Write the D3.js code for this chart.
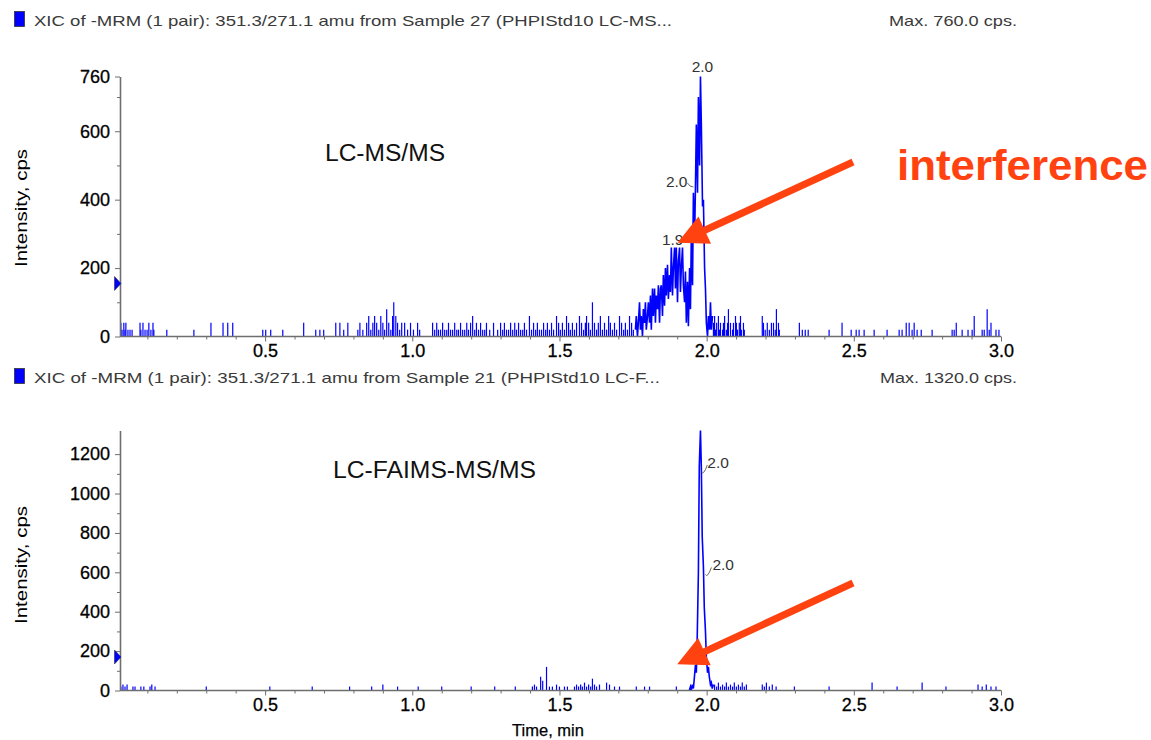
<!DOCTYPE html>
<html>
<head>
<meta charset="utf-8">
<script src="https://cdn.jsdelivr.net/npm/d3@7"></script>
<style>
body { margin: 0; background: #fff; }
svg { display: block; font-family: 'Liberation Sans', Arial, sans-serif; }
</style>
</head>
<body>
<script>
// ---- data (time in min, intensity in cps) ----
let xTicks = [0.5, 1.0, 1.5, 2.0, 2.5, 3.0];
let xMinor = [0.1, 0.2, 0.3, 0.4, 0.6, 0.7, 0.8, 0.9, 1.1, 1.2, 1.3, 1.4, 1.6, 1.7, 1.8, 1.9, 2.1, 2.2, 2.3, 2.4, 2.6, 2.7, 2.8, 2.9];

let topTicks = [0, 200, 400, 600, 760];
let topMinor = [100, 300, 500, 700];
let bottomTicks = [0, 200, 400, 600, 800, 1000, 1200];
let bottomMinor = [100, 300, 500, 700, 900, 1100];

// baseline noise, LC-MS/MS
let topNoise = [
  [0.010,40],[0.014,20],[0.020,40],[0.024,20],[0.027,40],[0.034,20],[0.041,20],[0.048,20],
  [0.075,40],[0.078,20],[0.085,40],[0.092,20],[0.099,20],[0.105,40],[0.112,20],[0.119,40],[0.122,20],
  [0.166,20],[0.258,20],[0.316,40],[0.357,40],[0.373,40],[0.390,40],
  [0.492,20],[0.502,20],[0.519,20],[0.560,20],[0.631,40],[0.672,20],[0.686,20],[0.699,20],
  [0.740,40],[0.754,40],[0.767,20],[0.781,40],[0.815,20],[0.822,40],[0.832,20],[0.845,40],[0.852,60],
  [0.859,20],[0.866,40],[0.872,60],[0.879,40],[0.886,20],[0.893,60],[0.900,40],[0.906,20],[0.913,80],
  [0.920,40],[0.927,20],[0.933,60],[0.937,100],[0.944,60],[0.950,40],[0.957,20],[0.964,40],[0.974,40],
  [0.984,20],[0.994,40],[1.004,20],[1.018,40],[1.025,20],
  [1.069,40],[1.076,20],[1.083,40],[1.089,20],[1.096,20],[1.103,40],[1.110,20],[1.117,20],[1.123,40],
  [1.130,20],[1.137,20],[1.144,40],[1.151,20],[1.157,20],[1.164,40],[1.171,20],[1.178,20],[1.185,40],
  [1.191,20],[1.198,40],[1.205,60],[1.212,20],[1.218,40],[1.225,20],[1.232,40],[1.239,20],[1.246,20],
  [1.252,40],[1.263,20],[1.276,40],[1.290,20],[1.300,40],[1.307,20],[1.313,40],[1.320,20],[1.327,20],
  [1.334,40],[1.341,20],[1.348,40],[1.354,20],[1.361,40],[1.368,20],[1.375,20],[1.381,40],[1.388,20],
  [1.398,60],[1.405,20],[1.412,40],[1.419,20],[1.425,40],[1.432,20],[1.439,20],[1.446,40],[1.453,20],
  [1.459,40],[1.466,20],[1.473,40],[1.480,20],[1.490,60],[1.497,40],[1.503,20],[1.510,40],[1.517,20],
  [1.524,60],[1.531,40],[1.537,20],[1.544,40],[1.551,20],[1.558,40],[1.568,60],[1.575,40],[1.582,20],
  [1.588,40],[1.592,60],[1.599,40],[1.605,20],[1.612,100],[1.619,40],[1.626,20],[1.632,40],[1.639,60],
  [1.646,20],[1.653,40],[1.660,20],[1.667,60],[1.673,40],[1.680,20],[1.687,40],[1.694,20],[1.704,60],
  [1.711,40],[1.718,20],[1.724,40],[1.731,20],[1.738,60],[1.745,40],[1.751,20],
  [2.023,40],[2.027,60],[2.030,20],[2.034,40],[2.040,60],[2.044,20],[2.047,40],[2.054,20],[2.057,40],
  [2.061,60],[2.067,20],[2.071,40],[2.074,80],[2.081,40],[2.088,20],[2.091,40],[2.098,60],[2.101,40],
  [2.105,20],[2.111,40],[2.115,60],[2.118,20],[2.125,40],[2.128,20],
  [2.189,60],[2.193,40],[2.199,20],[2.206,40],[2.213,20],[2.220,40],[2.227,40],[2.233,20],[2.237,80],
  [2.244,40],[2.247,20],[2.315,40],[2.325,20],[2.335,20],[2.345,20],[2.416,20],[2.460,40],[2.491,20],
  [2.508,20],[2.518,20],[2.535,20],[2.569,20],[2.613,20],[2.654,20],[2.664,20],[2.678,40],[2.688,40],
  [2.698,20],[2.705,40],[2.715,20],[2.729,20],[2.766,20],[2.834,20],[2.841,20],[2.848,40],[2.868,20],
  [2.888,20],[2.902,20],[2.909,60],[2.936,20],[2.943,20],[2.953,80],[2.960,20],[2.966,40],[2.983,20],[2.993,20]
];

// interference hump + analyte peak, LC-MS/MS
let topPeakTime = [
  1.758,1.761,1.765,1.768,1.772,1.775,1.778,1.782,1.785,1.789,1.792,1.795,1.799,1.802,1.806,1.809,
  1.812,1.816,1.819,1.823,1.826,1.829,1.833,1.836,1.840,1.843,1.846,1.850,1.853,1.857,1.860,1.863,
  1.867,1.870,1.874,1.877,1.880,1.884,1.887,1.891,1.894,1.897,1.901,1.904,1.908,1.911,1.914,1.918,
  1.921,1.925,1.928,1.931,1.935,1.938,1.942,1.945,1.948,1.952,1.955,1.959,1.962,1.965,1.969,1.972,
  1.976,1.979,1.982,1.986,1.989,1.993,1.996,1.999,2.003,2.006,2.010,2.013,2.016,2.020
];
let topPeakCps = [
  20,60,0,40,100,20,60,0,80,40,100,20,60,100,40,120,
  20,140,60,140,40,120,80,150,40,140,150,60,180,90,200,120,
  210,110,180,130,260,120,200,260,140,260,100,220,260,130,200,260,
  150,100,190,40,160,30,200,80,300,150,420,280,440,620,420,700,
  500,760,620,380,400,200,140,40,0,60,20,100,20,60
];

// baseline noise, LC-FAIMS-MS/MS
let bottomNoise = [
  [0.010,20],[0.017,30],[0.024,20],[0.031,30],[0.051,20],[0.058,20],[0.078,20],[0.088,20],[0.109,20],
  [0.115,30],[0.126,20],[0.300,20],[0.516,20],[0.660,20],[0.787,20],[0.862,20],[0.900,30],[0.950,20],
  [1.020,20],[1.100,20],[1.200,20],[1.280,20],[1.350,20],
  [1.408,20],[1.415,30],[1.422,20],[1.436,70],[1.443,50],[1.456,120],[1.466,20],[1.476,20],[1.490,30],
  [1.500,20],[1.517,20],[1.527,20],[1.551,20],[1.558,30],[1.565,20],[1.572,30],[1.578,20],[1.585,40],
  [1.592,20],[1.599,30],[1.606,20],[1.612,60],[1.619,30],[1.626,20],[1.636,30],[1.660,40],[1.670,30],
  [1.687,20],[1.704,20],[1.761,20],[1.789,20],[1.806,20],[1.897,20],
  [2.027,30],[2.034,20],[2.040,40],[2.047,20],[2.054,30],[2.061,20],[2.067,40],[2.074,20],[2.081,30],
  [2.088,20],[2.094,40],[2.101,20],[2.108,30],[2.115,20],[2.121,40],[2.128,20],[2.135,30],
  [2.189,30],[2.196,20],[2.203,40],[2.213,20],[2.223,30],[2.236,20],[2.298,20],[2.416,20],[2.562,40],
  [2.647,20],[2.732,40],[2.813,20],[2.922,30],[2.936,20],[2.950,30],[2.966,20],[2.983,20]
];

// analyte peak, LC-FAIMS-MS/MS
let bottomPeakTime = [
  1.941,1.945,1.948,1.951,1.955,1.958,1.962,1.965,1.968,1.972,1.975,1.979,1.982,
  1.985,1.989,1.992,1.996,1.999,2.003,2.006,2.009,2.013,2.016,2.019,2.023
];
let bottomPeakCps = [
  0,20,0,30,10,60,130,90,270,600,1140,1320,1130,
  780,630,420,300,170,90,120,70,30,40,10,30
];

let width = 1151;
let height = 740;
let blue = '#0000ff';
let red = '#ff4210';
let axisGrey = '#6e6e6e';

let svg = d3.select('body')
    .append('svg')
        .attr('width', width)
        .attr('height', height);

let x = d3.scaleLinear().domain([0.007, 3.0]).range([120, 1001]);

function drawArrow(x0, y0, x1, y1) {
    let dx = x1 - x0, dy = y1 - y0;
    let len = Math.hypot(dx, dy);
    let ux = dx / len, uy = dy / len;
    let nx = -uy, ny = ux;
    let headLen = 30, headW = 15, shaftW = 3.6;
    let bx = x1 - ux * headLen, by = y1 - uy * headLen;
    let pts = [
        [x0 + nx * shaftW, y0 + ny * shaftW],
        [bx + nx * shaftW, by + ny * shaftW],
        [bx + nx * headW, by + ny * headW],
        [x1, y1],
        [bx - nx * headW, by - ny * headW],
        [bx - nx * shaftW, by - ny * shaftW],
        [x0 - nx * shaftW, y0 - ny * shaftW]
    ];
    svg.append('polygon')
        .attr('points', pts.map(p => p.join(',')).join(' '))
        .attr('fill', red);
}

function drawPanel(cfg) {
    let y = d3.scaleLinear().domain([0, cfg.yMax]).range(cfg.yRange);
    let g = svg.append('g');

    // header line
    g.append('rect')
        .attr('x', 14.5).attr('y', cfg.headY - 14.5)
        .attr('width', 10).attr('height', 15)
        .attr('fill', blue).attr('stroke', '#333').attr('stroke-width', 0.8);
    g.append('text')
        .attr('x', 34).attr('y', cfg.headY)
        .attr('font-size', 15).attr('fill', '#3a3a3a')
        .attr('textLength', cfg.titleLen).attr('lengthAdjust', 'spacingAndGlyphs')
        .text(cfg.title);
    g.append('text')
        .attr('x', cfg.maxX).attr('y', cfg.headY)
        .attr('font-size', 15).attr('fill', '#3a3a3a')
        .attr('textLength', 1017 - cfg.maxX).attr('lengthAdjust', 'spacingAndGlyphs')
        .text(cfg.maxText);

    // noise spikes
    g.selectAll('.spike')
        .data(cfg.noise)
        .enter().append('line')
            .attr('class', 'spike')
            .attr('x1', d => x(d[0])).attr('x2', d => x(d[0]))
            .attr('y1', y(0)).attr('y2', d => y(d[1]))
            .attr('stroke', blue).attr('stroke-width', 1.2);

    // peak trace
    let pts = cfg.peakTime.map((t, i) => [t, cfg.peakCps[i]]);
    g.append('path')
        .datum(pts)
        .attr('d', d3.line().x(d => x(d[0])).y(d => y(d[1])))
        .attr('fill', 'none').attr('stroke', blue).attr('stroke-width', 1.6);

    // axes
    let xa = g.append('g')
        .attr('transform', 'translate(0,' + y(0) + ')')
        .call(d3.axisBottom(x).tickValues(xTicks).tickFormat(d3.format('.1f')).tickSize(5).tickSizeOuter(0).tickPadding(3));
    g.append('g')
        .attr('transform', 'translate(0,' + y(0) + ')')
        .call(d3.axisBottom(x).tickValues(xMinor).tickFormat('').tickSize(3).tickSizeOuter(0))
        .call(a => a.select('.domain').remove());
    let ya = g.append('g')
        .attr('transform', 'translate(120,0)')
        .call(d3.axisLeft(y).tickValues(cfg.ticks).tickFormat(d3.format('d')).tickSize(5).tickSizeOuter(0).tickPadding(5));
    g.append('g')
        .attr('transform', 'translate(120,0)')
        .call(d3.axisLeft(y).tickValues(cfg.minor).tickFormat('').tickSize(3).tickSizeOuter(0))
        .call(a => a.select('.domain').remove());

    g.selectAll('.domain, .tick line').attr('stroke', axisGrey);
    g.selectAll('.domain').attr('stroke-width', 1.6);
    [xa, ya].forEach(a => a.attr('font-size', 18).attr('font-family', "'Liberation Sans', Arial, sans-serif"));
    g.selectAll('.tick text').attr('fill', '#000').attr('stroke', '#000').attr('stroke-width', 0.3);
    xa.selectAll('.domain').attr('d', 'M120,0H1001');

    // threshold marker on the y axis
    let ym = y(cfg.marker);
    g.append('polygon')
        .attr('points', [[114.5, ym - 7], [121, ym], [114.5, ym + 7]].map(p => p.join(',')).join(' '))
        .attr('fill', blue).attr('stroke', '#222').attr('stroke-width', 0.5);

    // y title
    g.append('text')
        .attr('transform', 'translate(27,' + cfg.yTitleY + ') rotate(-90)')
        .attr('text-anchor', 'middle')
        .attr('font-size', 17).attr('fill', '#000')
        .attr('textLength', 118).attr('lengthAdjust', 'spacingAndGlyphs')
        .text('Intensity, cps');

    // method label
    g.append('text')
        .attr('x', cfg.methodX).attr('y', cfg.methodY)
        .attr('font-size', 23).attr('fill', '#111')
        .attr('textLength', cfg.methodLen).attr('lengthAdjust', 'spacingAndGlyphs')
        .text(cfg.method);

    // retention time labels
    cfg.peakLabels.forEach(l => {
        let px = x(l.t), py = y(l.v);
        if (l.leader) {
            g.append('path')
                .attr('d', 'M' + (px + l.leader[0]) + ',' + (py + l.leader[1]) + 'q2,4 ' + l.leader[2] + ',' + l.leader[3])
                .attr('fill', 'none').attr('stroke', '#444').attr('stroke-width', 0.8);
        }
        g.append('text')
            .attr('x', px + l.dx).attr('y', py + l.dy)
            .attr('text-anchor', l.anchor)
            .attr('font-size', 15.5).attr('fill', '#333')
            .text(l.text);
    });

    return y;
}

let yTop = drawPanel({
    yMax: 760, yRange: [336.5, 76.5], ticks: topTicks, minor: topMinor,
    noise: topNoise, peakTime: topPeakTime, peakCps: topPeakCps,
    headY: 26, title: 'XIC of -MRM (1 pair): 351.3/271.1 amu from Sample 27 (PHPIStd10 LC-MS...',
    titleLen: 638, maxX: 889, maxText: 'Max. 760.0 cps.', marker: 155, yTitleY: 208,
    method: 'LC-MS/MS', methodX: 325, methodY: 161, methodLen: 120,
    peakLabels: [
        { t: 1.979, v: 760, text: '2.0', dx: 2, dy: -5, anchor: 'middle' },
        { t: 1.962, v: 440, text: '2.0', dx: -8, dy: 1, anchor: 'end', leader: [-8, -3, 6, 4] },
        { t: 1.894, v: 260, text: '1.9', dx: 8, dy: -3, anchor: 'end' }
    ]
});

let yBottom = drawPanel({
    yMax: 1320, yRange: [690.5, 430.5], ticks: bottomTicks, minor: bottomMinor,
    noise: bottomNoise, peakTime: bottomPeakTime, peakCps: bottomPeakCps,
    headY: 383, title: 'XIC of -MRM (1 pair): 351.3/271.1 amu from Sample 21 (PHPIStd10 LC-F...',
    titleLen: 626, maxX: 880, maxText: 'Max. 1320.0 cps.', marker: 170, yTitleY: 565,
    method: 'LC-FAIMS-MS/MS', methodX: 333, methodY: 478, methodLen: 203,
    peakLabels: [
        { t: 1.982, v: 1130, text: '2.0', dx: 6, dy: 0, anchor: 'start', leader: [0, 4, 6, -7] },
        { t: 1.989, v: 630, text: '2.0', dx: 9, dy: 4, anchor: 'start', leader: [2, 8, 6, -7] }
    ]
});

svg.append('text')
    .attr('x', 548).attr('y', 736)
    .attr('text-anchor', 'middle')
    .attr('font-size', 16.5).attr('fill', '#000')
    .attr('stroke', '#000').attr('stroke-width', 0.25)
    .text('Time, min');

// interference arrows
drawArrow(853, yTop(510), x(1.901), yTop(274));
drawArrow(853, yBottom(546), x(1.900), yBottom(133));

svg.append('text')
    .attr('x', 897).attr('y', 180)
    .attr('font-size', 42).attr('font-weight', 'bold').attr('fill', red)
    .attr('textLength', 251).attr('lengthAdjust', 'spacingAndGlyphs')
    .text('interference');
</script>
</body>
</html>
